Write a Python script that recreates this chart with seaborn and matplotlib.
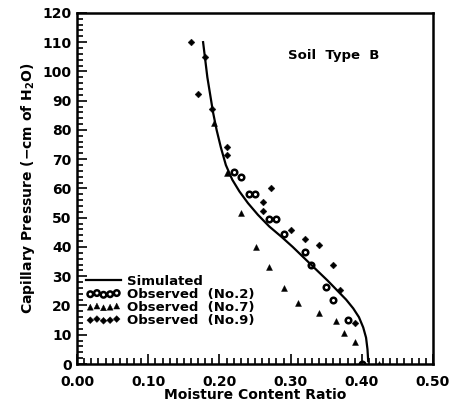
import numpy as np
import pandas as pd
import seaborn as sns
import matplotlib.pyplot as plt
from matplotlib.ticker import MultipleLocator

# simulated curve (moisture content ratio, capillary pressure)
sim_x = [0.177, 0.180, 0.183, 0.187, 0.191, 0.196, 0.202, 0.209, 0.218, 0.228, 0.240,
         0.254, 0.270, 0.287, 0.303, 0.320, 0.337, 0.352, 0.366, 0.378, 0.388, 0.396,
         0.402, 0.406, 0.408, 0.409, 0.409]
sim_y = [110, 104, 98, 92, 86, 80, 74, 68, 63, 59, 55,
         51, 47, 43.5, 40, 36, 32, 28.5, 25, 22, 19, 16,
         12.5, 9, 5, 2, 0]

# observed No.2
obs2_x = [0.220, 0.230, 0.241, 0.250, 0.270, 0.279, 0.290, 0.320, 0.329, 0.350, 0.360, 0.381, 0.400]
obs2_y = [65.7, 64.0, 58.2, 58.2, 49.4, 49.4, 44.4, 38.4, 33.8, 26.4, 21.8, 15.0, 0.0]

# observed No.7
obs7_x = [0.192, 0.210, 0.230, 0.251, 0.270, 0.291, 0.311, 0.340, 0.364, 0.375, 0.390, 0.424]
obs7_y = [82.3, 65.2, 51.5, 40.1, 33.1, 25.9, 20.7, 17.3, 14.7, 10.5, 7.4, 0.0]

# observed No.9
obs9_x = [0.160, 0.170, 0.180, 0.190, 0.210, 0.210, 0.261, 0.261, 0.273, 0.300, 0.320, 0.340, 0.360, 0.370, 0.391]
obs9_y = [110.0, 92.3, 104.8, 87.1, 71.5, 74.0, 52.3, 55.5, 60.0, 45.7, 42.6, 40.7, 33.8, 25.3, 13.9]

x_ticks = [0.0, 0.1, 0.2, 0.3, 0.4, 0.5]
x_labels = ['0.00', '0.10', '0.20', '0.30', '0.40', '0.50']
y_ticks = list(range(0, 121, 10))

plt.rcParams['font.family'] = ['DejaVu Sans']
plt.rcParams['font.weight'] = 'bold'

fig = plt.figure(figsize=(4.51, 4.16), dpi=100)
ax = fig.add_axes([0.171, 0.125, 0.789, 0.844])

sim = pd.DataFrame({'x': sim_x, 'y': sim_y})
sns.lineplot(data=sim, x='x', y='y', sort=False, color='black', linewidth=1.6,
             ax=ax, label='Simulated')
sns.scatterplot(x=obs2_x, y=obs2_y, marker='o', s=16, facecolor='white',
                edgecolor='black', linewidth=1.8, ax=ax, label='Observed  (No.2)')
sns.scatterplot(x=obs7_x, y=obs7_y, marker='^', s=18, color='black',
                edgecolor='black', ax=ax, label='Observed  (No.7)')
sns.scatterplot(x=obs9_x, y=obs9_y, marker='D', s=12, color='black',
                edgecolor='black', ax=ax, label='Observed  (No.9)')

ax.set_xlim(0, 0.5)
ax.set_ylim(0, 120)
ax.set_xticks(x_ticks)
ax.set_xticklabels(x_labels)
ax.set_yticks(y_ticks)
ax.xaxis.set_minor_locator(MultipleLocator(0.01))
ax.yaxis.set_minor_locator(MultipleLocator(2))
ax.tick_params(which='both', direction='in', width=1.2, labelsize=10, pad=2)
ax.tick_params(which='major', length=7)
ax.tick_params(which='minor', length=4)
ax.tick_params(axis='x', pad=8)
ax.tick_params(axis='y', pad=4)
for s in ax.spines.values():
    s.set_linewidth(1.8)
    s.set_color('black')

ax.set_xlabel('Moisture Content Ratio', fontsize=10, fontweight='bold', labelpad=-1)
ax.set_ylabel('Capillary Pressure (−cm of H$_2$O)', fontsize=10, fontweight='bold', labelpad=4)
ax.text(0.297, 105.6, 'Soil  Type  B', fontsize=9.5, fontweight='bold', va='center', ha='left')

leg = ax.legend(loc='lower left', bbox_to_anchor=(0.0, 0.08), frameon=False,
                scatterpoints=5, handlelength=2.6, handletextpad=0.5, labelspacing=0.0,
                borderpad=0.2, prop={'size': 9.5, 'weight': 'bold'})

plt.savefig('out.png', dpi=100)
